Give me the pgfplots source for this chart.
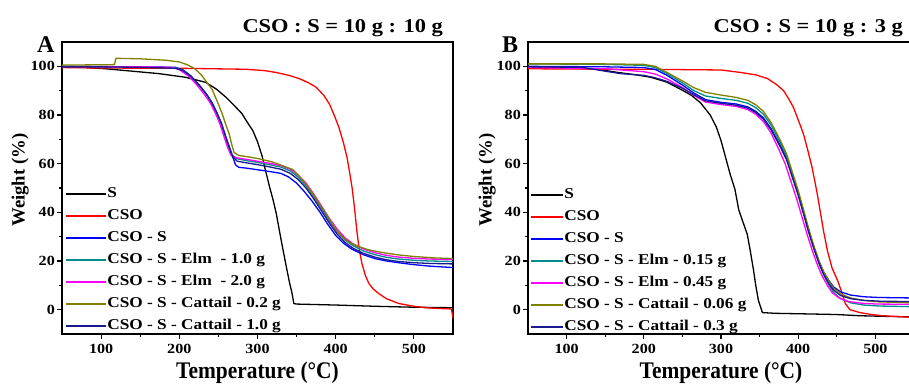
\documentclass[border=0pt]{standalone}
\usepackage{pgfplots}
\pgfplotsset{compat=1.18}
\usepackage{fontspec}
\setmainfont{Liberation Serif}
\newfontfamily\wide[FakeStretch=1.15]{Liberation Serif}
\newfontfamily\narrow[FakeStretch=0.9]{Liberation Serif}
\definecolor{cteal}{RGB}{0,140,140}
\definecolor{cnavy}{RGB}{25,25,145}
\definecolor{colive}{RGB}{128,128,0}
\definecolor{cmag}{RGB}{255,0,255}
\definecolor{cblue}{RGB}{0,0,255}
\definecolor{cred}{RGB}{255,0,0}
\pgfplotsset{tga/.style={
  scale only axis, height=292pt,
  xmin=50, xmax=550, ymin=-10, ymax=110,
  xtick={100,200,...,500}, ytick={0,20,...,100},
  minor x tick num=1, minor y tick num=1,
  tick align=outside, xtick pos=bottom, ytick pos=left,
  major tick length=5pt, minor tick length=3pt,
  every tick/.style={line width=1.1pt, black},
  axis line style={line width=1.2pt},
  /pgf/number format/assume math mode=true,
  ticklabel style={font=\wide\fontsize{14}{14}\selectfont\bfseries},
  xticklabel style={inner sep=0pt, yshift=-5pt},
  yticklabel style={inner sep=0pt, xshift=-2pt},
  xlabel={Temperature (°C)},
  xlabel style={at={(axis description cs:0.5,-0.1507)}, anchor=base, inner sep=0pt, font=\narrow\fontsize{23.8}{24}\selectfont\bfseries},
  ylabel={Weight (\%)},
  ylabel style={font=\fontsize{18.7}{19}\selectfont\bfseries, inner sep=0pt, anchor=center},
  every axis plot/.append style={line width=1.3pt, line join=round},
  legend cell align=left,
  legend style={draw=none, fill=none, inner sep=0pt, anchor=north west,
    font=\wide\fontsize{15}{15}\selectfont\bfseries,
    nodes={inner sep=0pt, text height=11pt, text depth=4pt},
    row sep=7pt,
    /tikz/every even column/.append style={column sep=4pt}},
}}
\begin{document}
\begin{tikzpicture}
\path[use as bounding box, clip] (0,0) rectangle (909pt,385pt);
% ---------------- Panel A ----------------
\begin{axis}[tga, width=391pt, at={(62pt,51pt)}, anchor=south west,
  ylabel style={at={(axis description cs:-0.107,0.527)}},
  legend style={at={(axis description cs:0.0077,0.506)}},
  legend image code/.code={\draw[#1, line width=2.2pt] (0pt,0pt) -- (40pt,0pt);}]
\addplot[black] coordinates {(50,99.8)(80,99.5)(106,99)(140,98)(174,97)(208,95.5)(234,93.4)(248,90.5)(260,87.2)(270,84)(280,80.6)(288,76.5)(294,73.6)(300,69)(306,63)(310,57.5)(315,51)(320,45)(324,39.5)(330,29)(336,19)(341,11)(344,7)(346.5,2.5)(350,2.3)(400,1.9)(450,1.4)(500,1)(550,0.8)};
\addlegendentry{S}
\addplot[cred] coordinates {(50,99.5)(100,99.3)(200,99.2)(285,98.8)(310,98.2)(325,97.4)(340,96.3)(353,95)(365,93.3)(375,91.4)(385,88)(392,84.5)(398,80)(404,75)(410,68.5)(414.5,62.5)(418,56)(421,50)(424,42)(427,32.5)(430,25)(433.5,19)(438,14)(442.5,10.7)(448,8.5)(455,6.6)(465,4.5)(481,2.5)(500,1.4)(515,0.8)(530,0.5)(548,0.3)(550,-3.5)};
\addlegendentry{CSO}
\addplot[cblue] coordinates {(50,99.8)(100,99.8)(150,99.8)(195,99.6)(205,98.5)(215,96)(225,92.5)(235,88.5)(242,85)(248,81)(254,76.5)(259,71.5)(264,67)(268,63)(272,59.5)(276,58.5)(285,58.2)(300,57.5)(315,56.8)(330,56)(340,54.5)(350,52)(360,48.5)(370,44.5)(380,40)(390,35)(400,30.5)(410,27.3)(420,25)(435,22.6)(450,21)(465,20)(480,19.3)(500,18.5)(520,17.9)(550,17.3)};
\addlegendentry{CSO - S}
\addplot[cteal] coordinates {(50,100)(100,99.9)(150,99.7)(195,99.4)(205,98.3)(215,95.8)(225,92.3)(235,88.3)(242,84.8)(248,80.8)(254,76.3)(259,71.3)(264,66.5)(268,63.5)(274,62)(285,61.3)(300,60.5)(315,59.6)(330,58.6)(342,57)(352,54.5)(362,51)(372,46.5)(382,41.5)(392,36.5)(402,32)(412,28.6)(422,26.3)(435,24.2)(450,22.6)(465,21.5)(480,20.8)(500,20.3)(520,20)(550,19.8)};
\addlegendentry{CSO - S - Elm\ \ - 1.0 g}
\addplot[cmag] coordinates {(50,99.9)(100,99.9)(150,99.8)(190,99.6)(200,98.6)(212,96)(222,92.5)(232,88.5)(240,84.8)(246,80.8)(252,76.3)(257,71.3)(262,66.5)(266,63.5)(272,62.5)(285,61.8)(300,61)(315,60.2)(330,59.2)(342,57.7)(352,55.3)(362,52)(372,47.5)(382,42.5)(392,37.5)(402,33)(412,29.5)(422,27.1)(435,25)(450,23.4)(465,22.3)(480,21.6)(500,21.1)(520,20.8)(550,20.6)};
\addlegendentry{CSO - S - Elm\ \ - 2.0 g}
\addplot[colive] coordinates {(50,100.5)(117,100.7)(119,103.3)(150,103.1)(183,102.5)(200,101.8)(210,100.7)(220,99)(228,96.5)(235,93.5)(242,90.5)(248,86)(254.6,80.7)(259,76.5)(263.6,72.4)(267,68)(270,64.6)(276,63.4)(290,62.7)(302,62)(318,60.8)(331,59.3)(345,57.6)(353,55)(362,51.5)(370,48)(379,43.5)(387.5,39.5)(396,35)(404,31.3)(415,28.2)(426,26.3)(442,24.6)(459,23.5)(480,22.5)(502,21.8)(525,21.3)(550,21)};
\addlegendentry{CSO - S - Cattail - 0.2 g}
\addplot[cnavy] coordinates {(50,99.8)(100,99.8)(150,99.6)(195,99.2)(205,98.2)(215,95.8)(225,92.4)(235,88.4)(242,84.8)(248,80.8)(254,76.3)(259,71.3)(264,66.5)(268,63)(274,61)(285,60.4)(300,59.6)(315,58.7)(330,57.7)(342,56)(352,53.5)(362,50)(372,45.5)(382,40.5)(392,35.5)(402,31)(412,27.6)(422,25.3)(435,23.2)(450,21.6)(465,20.5)(480,19.8)(500,19.3)(520,19)(550,18.8)};
\addlegendentry{CSO - S - Cattail - 1.0 g}
\end{axis}
% ---------------- Panel B ----------------
\begin{axis}[tga, width=386pt, at={(528pt,51pt)}, anchor=south west,
  ylabel style={at={(axis description cs:-0.106,0.527)}},
  legend style={at={(axis description cs:0.005,0.503)}},
  legend image code/.code={\draw[#1, line width=2.2pt] (0pt,0pt) -- (32pt,0pt);}]
\addplot[black] coordinates {(50,99.5)(100,99.3)(140,98.8)(166,97.5)(190,96.5)(209,95.5)(230,93.5)(251,90)(262,88)(273.5,85)(286,80)(294,75)(300,69.5)(306,62.5)(312,55.5)(318,49.5)(323,41)(329,35.5)(334,31)(338,24)(342,16.5)(345,10)(348.5,3.7)(353.7,-1.2)(370,-1.5)(420,-1.8)(450,-2)(480,-2.5)(520,-2.8)(550,-3)};
\addlegendentry{S}
\addplot[cred] coordinates {(50,99)(100,98.9)(200,98.8)(300,98.5)(325,97.5)(345,96.5)(360,95)(372,92.5)(381,90)(388,86.5)(394,83)(400,78)(403,75.5)(407,72)(412,66)(418,58.4)(422,52)(425,47)(429,39.5)(433,32)(438,24)(444,17)(451,12)(456,7.5)(461,2.5)(467,0)(480,-1.2)(495,-2)(510,-2.5)(550,-3.2)};
\addlegendentry{CSO}
\addplot[cblue] coordinates {(50,100)(150,99.8)(200,99.5)(215,98.7)(230,96.3)(250,92.3)(265,89)(280,86.3)(300,85.2)(320,84.5)(335,83.3)(345,81.5)(355,78.8)(365,74.3)(377,67.3)(385,62)(392,55.3)(400,47.5)(407,39.8)(413,33)(420,26)(427,19.8)(433,15.5)(440,11.8)(446,9.3)(455,7.3)(468,6)(485,5.3)(505,5)(550,4.8)};
\addlegendentry{CSO - S}
\addplot[cteal] coordinates {(50,101)(150,100.8)(200,100.4)(215,99.5)(230,97)(250,93.2)(265,90)(280,87.8)(300,86.8)(320,86)(335,84.8)(345,83)(355,80.3)(365,75.8)(377,68.5)(385,63)(392,56)(400,48)(407,40)(413,33)(420,25.5)(427,19)(433,14.3)(440,10)(446,7)(455,4.5)(468,2.8)(485,1.9)(505,1.5)(550,1.2)};
\addlegendentry{CSO - S - Elm - 0.15 g}
\addplot[cmag] coordinates {(50,99.5)(150,99)(200,97.8)(215,96.8)(230,94.8)(250,91.3)(265,88)(280,85.3)(300,84.3)(320,83.5)(335,82.2)(345,80.3)(355,77.3)(365,72.5)(375,65.8)(383,60)(390,53.3)(398,45.5)(405,38)(411,31.5)(418,24.5)(425,18.3)(431,13.8)(438,9.8)(444,7)(453,4.8)(466,3.3)(483,2.6)(503,2.3)(550,2.2)};
\addlegendentry{CSO - S - Elm - 0.45 g}
\addplot[colive] coordinates {(50,101)(150,101)(200,100.8)(215,100)(230,97.5)(250,94)(265,91.2)(280,89.3)(300,88.2)(320,87.2)(335,86)(345,84.2)(355,81.5)(365,76.8)(377,69.5)(385,64)(392,57)(400,49)(407,41)(413,34)(420,26.5)(427,20)(433,15.5)(440,11.5)(446,8.8)(455,6.5)(468,4.8)(485,3.8)(505,3.2)(550,2.8)};
\addlegendentry{CSO - S - Cattail - 0.06 g}
\addplot[cnavy] coordinates {(50,99.8)(120,99.6)(150,98)(170,97)(200,96.3)(215,95.3)(230,93.8)(250,91)(265,88.3)(280,85.8)(300,84.8)(320,84)(335,82.8)(345,81)(355,78.3)(365,73.8)(377,66.8)(385,61.5)(392,54.8)(400,47)(407,39.2)(413,32.4)(420,25.3)(427,19)(433,14.5)(440,10.6)(446,8)(455,5.8)(468,4.5)(485,3.8)(505,3.5)(550,3.3)};
\addlegendentry{CSO - S - Cattail - 0.3 g}
\end{axis}
% ---------------- Panel titles and letters ----------------
\node[anchor=base east, inner sep=0pt, font=\wide\fontsize{19.5}{20}\selectfont\bfseries] at (443pt,352pt) {CSO : S = 10 g : 10 g};
\node[anchor=base east, inner sep=0pt, font=\wide\fontsize{19.5}{20}\selectfont\bfseries] at (903pt,352pt) {CSO : S = 10 g : 3 g};
\node[anchor=base west, inner sep=0pt, font=\fontsize{24}{24}\selectfont\bfseries] at (37pt,332pt) {A};
\node[anchor=base west, inner sep=0pt, font=\fontsize{24}{24}\selectfont\bfseries] at (502pt,332pt) {B};
\end{tikzpicture}
\end{document}
